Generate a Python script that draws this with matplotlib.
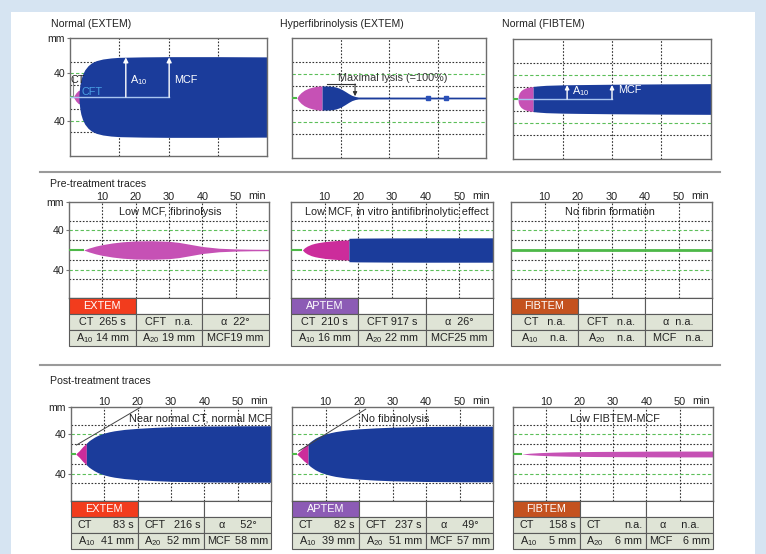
import matplotlib
matplotlib.use('Agg')
import matplotlib.pyplot as plt
from matplotlib.patches import Rectangle

plt.rcParams['font.family'] = ['Liberation Sans', 'DejaVu Sans']
plt.rcParams['mathtext.fontset'] = 'custom'
plt.rcParams['mathtext.rm'] = 'Liberation Sans'
plt.rcParams['mathtext.it'] = 'Liberation Sans:italic'
plt.rcParams['mathtext.bf'] = 'Liberation Sans:bold'
plt.rcParams['font.size'] = 7.5

# ------------------------------------------------------------------ data
# time in min, a = half amplitude in mm (trace is drawn symmetric)
NORM_EXTEM_CT = 1.0
NORM_EXTEM_PINK_T = [1.0, 1.8, 2.5, 3.2]
NORM_EXTEM_PINK_A = [0, 3.5, 5.5, 6.0]
NORM_EXTEM_BLUE_T = [2.7, 2.8, 3.0, 3.3, 3.8, 4.5, 5.5, 6.5, 8, 10, 12.5, 15, 22, 30, 45, 60]
NORM_EXTEM_BLUE_A = [0, 5, 10, 14.5, 19, 23, 26.5, 28.8, 30.8, 32.2, 33.1, 33.6, 34, 34.2, 34.2, 34]
NORM_EXTEM_A10_T = 17.0
NORM_EXTEM_MCF_T = 30.2

HYPER_CT = 1.5
HYPER_PINK_T = [1.5, 2.0, 2.8, 3.8, 5, 6.2, 7.5, 8.5, 9.3]
HYPER_PINK_A = [0, 2.2, 4.5, 6.5, 8.0, 9.0, 9.7, 10, 10]
HYPER_BLUE_T = [9.3, 11, 12.5, 13.5, 14.5, 15.5, 16.5, 17.5, 18.5, 19.5, 20.5, 60]
HYPER_BLUE_A = [10, 10, 9.7, 9.2, 8.3, 7.0, 5.4, 3.7, 2.2, 1.3, 0.8, 0.7]
HYPER_DOTS_T = [42.1, 47.7]
HYPER_LYSIS_T = [10.8, 19.5]

NORM_FIB_CT = 1.5
NORM_FIB_PINK_T = [1.5, 1.6, 1.9, 2.4, 3, 3.8, 4.6, 5.4, 6.1]
NORM_FIB_PINK_A = [0, 3, 5.2, 7, 8.2, 9.2, 9.8, 10.2, 10.3]
NORM_FIB_BLUE_T = [6.1, 8, 10, 15, 20, 30, 45, 60]
NORM_FIB_BLUE_A = [10.5, 11, 11.4, 11.8, 12, 12.3, 12.6, 12.8]
NORM_FIB_A10_T = 16.4
NORM_FIB_MCF_T = 30.0

PRE_EXTEM_CT = 4.4
PRE_EXTEM_PINK_T = [4.4, 6, 8, 10, 13, 16, 20, 25, 30, 33, 36, 40, 45, 50, 55, 60]
PRE_EXTEM_PINK_A = [0, 2, 4, 5.5, 7.2, 8.4, 9.3, 9.5, 8.9, 7.8, 6.0, 3.6, 1.8, 1.1, 0.8, 0.7]

PRE_APTEM_CT = 3.4
PRE_APTEM_PINK_T = [3.4, 4.0, 4.8, 6, 7, 8, 10, 12, 14.5, 17.2]
PRE_APTEM_PINK_A = [0, 2.2, 4, 5.8, 6.8, 7.5, 8.6, 9.3, 9.9, 10.3]
PRE_APTEM_BLUE_T = [17.2, 20, 30, 40, 60]
PRE_APTEM_BLUE_A = [12, 12.2, 12.4, 12.5, 12.5]

POST_EXTEM_CT = 1.4
POST_EXTEM_PINK_T = [1.4, 2.5, 3.5, 4.6]
POST_EXTEM_PINK_A = [0, 3.5, 7.5, 11]
POST_EXTEM_BLUE_T = [4.6, 5.3, 6, 7, 8, 9, 10, 11.5, 13, 16, 20, 25, 30, 40, 50, 60]
POST_EXTEM_BLUE_A = [11, 13.3, 15, 17.2, 19, 20.4, 21.5, 22.8, 23.8, 25.2, 26.3, 27.3, 28, 28.6, 28.9, 29]
POST_EXTEM_ALPHA = ([1.65, 20.9], [9.2, 48.0])

POST_APTEM_CT = 1.4
POST_APTEM_PINK_T = [1.4, 2.5, 3.5, 4.8]
POST_APTEM_PINK_A = [0, 3.5, 7, 10.5]
POST_APTEM_BLUE_T = [4.8, 5.4, 6, 7, 8, 9, 10, 11.5, 13, 16, 20, 25, 30, 40, 50, 60]
POST_APTEM_BLUE_A = [10.5, 12.5, 14, 16.3, 18, 19.4, 20.5, 21.9, 23, 24.5, 25.8, 26.8, 27.5, 28.2, 28.5, 28.5]
POST_APTEM_ALPHA = ([2.0, 22.0], [3.0, 46.0])

POST_FIB_CT = 2.6
POST_FIB_PINK_T = [2.6, 5, 8, 12, 17, 25, 35, 45, 60]
POST_FIB_PINK_A = [0, 0.8, 1.4, 1.9, 2.3, 2.6, 2.8, 3, 3]

TIME_TICKS = [10, 20, 30, 40, 50]

PRE_EXTEM_TABLE = [['CT  265 s', 'CFT   n.a.', 'α  22°'],
                   ['A$_{10}$ 14 mm', 'A$_{20}$ 19 mm', 'MCF19 mm']]
PRE_APTEM_TABLE = [['CT  210 s', 'CFT 917 s', 'α  26°'],
                   ['A$_{10}$ 16 mm', 'A$_{20}$ 22 mm', 'MCF25 mm']]
PRE_FIB_TABLE = [['CT   n.a.', 'CFT   n.a.', 'α  n.a.'],
                 ['A$_{10}$    n.a.', 'A$_{20}$    n.a.', 'MCF   n.a.']]
POST_EXTEM_TABLE = [[('CT', '83 s'), ('CFT', '216 s'), ('α', '52°')],
                    [('A$_{10}$', '41 mm'), ('A$_{20}$', '52 mm'), ('MCF', '58 mm')]]
POST_APTEM_TABLE = [[('CT', '82 s'), ('CFT', '237 s'), ('α', '49°')],
                    [('A$_{10}$', '39 mm'), ('A$_{20}$', '51 mm'), ('MCF', '57 mm')]]
POST_FIB_TABLE = [[('CT', '158 s'), ('CT', 'n.a.'), ('α', 'n.a.')],
                  [('A$_{10}$', '5 mm'), ('A$_{20}$', '6 mm'), ('MCF', '6 mm')]]

# ------------------------------------------------------------------ style
BLUE = '#1b3c9b'
PINK = '#c651b5'
PINK2 = '#cc2c9b'
GREEN = '#4db848'
GREEN_GRID = '#5cbf5a'
CELL = '#dfe4d6'
GRID = '#333333'
C_EXTEM = '#f23c1d'
C_APTEM = '#8c5bb5'
C_FIB = '#c4521f'

W, H = 766, 554
fig = plt.figure(figsize=(W / 100, H / 100), dpi=100)
fig.patch.set_facecolor('#d6e4f2')
fig.add_artist(Rectangle((11 / W, 0), (755 - 11) / W, 1 - 12 / H,
                         transform=fig.transFigure, fc='white', ec='none', zorder=0))


def px_axes(x0, y0, x1, y1):
    return fig.add_axes([x0 / W, 1 - y1 / H, (x1 - x0) / W, (y1 - y0) / H])


def ftext(x, y, s, **kw):
    kw.setdefault('va', 'center')
    fig.text(x / W, 1 - y / H, s, **kw)


def graph(x0, y0, x1, y1, ylim, xgrid, ylabels=False, xticks=False):
    ax = px_axes(x0, y0, x1, y1)
    ax.set_facecolor('none')
    ax.set_xlim(0, 60)
    ax.set_ylim(-ylim, ylim)
    for s in ax.spines.values():
        s.set_color('#6d6d6d')
        s.set_linewidth(1.0)
    for g in xgrid:
        ax.axvline(g, color=GRID, ls=(0, (1.5, 1.5)), lw=0.8, zorder=1)
    for g in (-30, -10, 10, 30):
        ax.axhline(g, color=GRID, ls=(0, (1.5, 1.5)), lw=0.8, zorder=1)
    for g in (-20, 20):
        ax.axhline(g, color=GREEN_GRID, ls=(0, (3, 2)), lw=0.8, zorder=1)
    if ylabels:
        ax.set_yticks([-20, 20, ylim])
        ax.set_yticklabels(['40', '40', 'mm'], fontsize=7.6, color='#222')
        ax.tick_params(axis='y', length=2.5, width=0.8, color='#777', pad=1)
    else:
        ax.set_yticks([])
    if xticks:
        ax.xaxis.set_ticks_position('top')
        ax.set_xticks(TIME_TICKS)
        ax.set_xticklabels([str(v) for v in TIME_TICKS], fontsize=7.8, color='#222')
        ax.tick_params(axis='x', length=0, pad=0.3)
        ax.annotate('min', xy=(1.0, 1.0), xycoords='axes fraction', xytext=(-2, 0.5),
                    textcoords='offset points', ha='right', va='bottom',
                    fontsize=7.8, color='#222')
    else:
        ax.set_xticks([])
    return ax


def trace(ax, ct, segments, lw=1.5):
    ax.plot([0, ct], [0, 0], color=GREEN, lw=lw, zorder=3, solid_capstyle='butt')
    for t, a, c in segments:
        ax.fill_between(t, [-v for v in a], a, color=c, lw=0, zorder=2)


def table(x0, x1, y0, name, hcolor, rows, split):
    ax = px_axes(x0, y0, x1, y0 + 48)
    ax.set_xlim(0, 3)
    ax.set_ylim(3, 0)
    ax.axis('off')
    for r in range(3):
        for c in range(3):
            fc = hcolor if (r == 0 and c == 0) else ('white' if r == 0 else CELL)
            ax.add_patch(Rectangle((c, r), 1, 1, fc=fc, ec='#5a5a5a', lw=0.8, clip_on=False))
    ax.text(0.5, 0.5, name, color='white', ha='center', va='center', fontsize=7.8)
    for r, row in enumerate(rows, start=1):
        for c, cell in enumerate(row):
            if split:
                lab, val = cell
                if lab == 'α':
                    ax.text(c + 0.5, r + 0.52, 'α     ' + val, ha='center', va='center',
                            fontsize=7.8, color='#222')
                else:
                    off = 0.04 if lab == 'MCF' else 0.1
                    ax.text(c + off, r + 0.52, lab, ha='left', va='center',
                            fontsize=7.8, color='#222')
                    ax.text(c + 0.96 if lab == 'MCF' else c + 0.94, r + 0.52, val,
                            ha='right', va='center', fontsize=7.8, color='#222')
            else:
                ax.text(c + 0.5, r + 0.52, cell, ha='center', va='center',
                        fontsize=7.8, color='#222')


# ------------------------------------------------------------------ top row
ftext(51, 24, 'Normal (EXTEM)', fontsize=7.6, color='#222')
ftext(280, 24, 'Hyperfibrinolysis (EXTEM)', fontsize=7.6, color='#222')
ftext(502, 24, 'Normal (FIBTEM)', fontsize=7.6, color='#222')

QUART = [15, 30, 45]
ax = graph(70, 38, 267, 156, 50, QUART, ylabels=True)
trace(ax, NORM_EXTEM_CT, [(NORM_EXTEM_PINK_T, NORM_EXTEM_PINK_A, PINK),
                          (NORM_EXTEM_BLUE_T, NORM_EXTEM_BLUE_A, BLUE)])
ax.plot([NORM_EXTEM_CT, NORM_EXTEM_CT], [0, 17], color='#888', lw=0.8, zorder=3)
ax.plot([0, NORM_EXTEM_MCF_T], [0, 0], color='#a9c5f0', lw=1.0, zorder=4)
for t in (NORM_EXTEM_A10_T, NORM_EXTEM_MCF_T):
    ax.annotate('', xy=(t, 33.6), xytext=(t, 0),
                arrowprops=dict(arrowstyle='-|>', color='white', lw=1.0,
                                mutation_scale=7, shrinkA=0, shrinkB=0), zorder=5)
ax.text(0.3, 14.4, 'CT', ha='left', va='center', fontsize=7.8, color='#222', zorder=6)
ax.text(3.4, 4.2, 'CFT', ha='left', va='center', fontsize=7.8, color='#4a9fe3', zorder=6)
ax.text(NORM_EXTEM_A10_T + 1.2, 14.4, 'A$_{10}$', ha='left', va='center', fontsize=7.8,
        color='white', zorder=6)
ax.text(NORM_EXTEM_MCF_T + 1.6, 14.4, 'MCF', ha='left', va='center', fontsize=7.8,
        color='white', zorder=6)

ax = graph(292, 38, 486, 158, 50, QUART)
trace(ax, HYPER_CT, [(HYPER_PINK_T, HYPER_PINK_A, PINK),
                     (HYPER_BLUE_T, HYPER_BLUE_A, BLUE)])
ax.plot(HYPER_DOTS_T, [0] * len(HYPER_DOTS_T), 's', ms=2.5, color='#2a50b8', zorder=4)
ax.plot(HYPER_LYSIS_T, [11.7, 11.7], color='#333', lw=0.8, zorder=4)
ax.annotate('', xy=(HYPER_LYSIS_T[1], 1.5), xytext=(HYPER_LYSIS_T[1], 11.7),
            arrowprops=dict(arrowstyle='-|>', color='#333', lw=0.8, mutation_scale=6,
                            shrinkA=0, shrinkB=0), zorder=4)
ax.text(31.1, 16.7, 'Maximal lysis (=100%)', ha='center', va='center', fontsize=7.8,
        color='#333', zorder=6)

ax = graph(513, 39, 711, 159, 50, QUART)
trace(ax, NORM_FIB_CT, [(NORM_FIB_PINK_T, NORM_FIB_PINK_A, PINK),
                        (NORM_FIB_BLUE_T, NORM_FIB_BLUE_A, BLUE)])
ax.plot([NORM_FIB_CT, NORM_FIB_MCF_T], [0, 0], color='#a9c5f0', lw=1.0, zorder=4)
for t in (NORM_FIB_A10_T, NORM_FIB_MCF_T):
    ax.annotate('', xy=(t, 11.7), xytext=(t, 0),
                arrowprops=dict(arrowstyle='-|>', color='white', lw=1.0,
                                mutation_scale=6, shrinkA=0, shrinkB=0), zorder=5)
ax.text(NORM_FIB_A10_T + 1.5, 7.0, 'A$_{10}$', ha='left', va='center', fontsize=7.8,
        color='white', zorder=6)
ax.text(NORM_FIB_MCF_T + 1.8, 7.5, 'MCF', ha='left', va='center', fontsize=7.8,
        color='white', zorder=6)

# separators
for y in (172, 365):
    fig.add_artist(plt.Line2D([40 / W, 720 / W], [1 - y / H, 1 - y / H],
                              transform=fig.transFigure, color='#9a9a9a', lw=1.5))

# ------------------------------------------------------------------ pre-treatment
ftext(50, 184, 'Pre-treatment traces', fontsize=7.6, color='#222')
DEC = [10, 20, 30, 40, 50]
ax = graph(69, 202, 269, 298, 49.2, DEC, ylabels=True, xticks=True)
trace(ax, PRE_EXTEM_CT, [(PRE_EXTEM_PINK_T, PRE_EXTEM_PINK_A, PINK)])
ax.text(30.3, 39, 'Low MCF, fibrinolysis', ha='center', va='center', fontsize=7.8, color='#222')
table(69, 269, 298, 'EXTEM', C_EXTEM, PRE_EXTEM_TABLE, False)

ax = graph(291, 202, 493, 298, 49.2, DEC, xticks=True)
trace(ax, PRE_APTEM_CT, [(PRE_APTEM_PINK_T, PRE_APTEM_PINK_A, PINK2),
                         (PRE_APTEM_BLUE_T, PRE_APTEM_BLUE_A, BLUE)])
ax.text(31.5, 39, 'Low MCF, in vitro antifibrinolytic effect', ha='center', va='center',
        fontsize=7.8, color='#222')
table(291, 493, 298, 'APTEM', C_APTEM, PRE_APTEM_TABLE, False)

ax = graph(511, 202, 712, 298, 49.2, DEC, xticks=True)
trace(ax, 60, [], lw=2.0)
ax.text(29.5, 39, 'No fibrin formation', ha='center', va='center', fontsize=7.8, color='#222')
table(511, 712, 298, 'FIBTEM', C_FIB, PRE_FIB_TABLE, False)

# ------------------------------------------------------------------ post-treatment
ftext(50, 381, 'Post-treatment traces', fontsize=7.6, color='#222')
ax = graph(71, 407, 271, 501, 48.2, DEC, ylabels=True, xticks=True)
trace(ax, POST_EXTEM_CT, [(POST_EXTEM_PINK_T, POST_EXTEM_PINK_A, PINK2),
                          (POST_EXTEM_BLUE_T, POST_EXTEM_BLUE_A, BLUE)])
ax.plot(*POST_EXTEM_ALPHA, color='#444', lw=0.7, zorder=5, clip_on=False)
ax.text(38.9, 35.9, 'Near normal CT, normal MCF', ha='center', va='center', fontsize=7.8,
        color='#222', zorder=6)
table(71, 271, 501, 'EXTEM', C_EXTEM, POST_EXTEM_TABLE, True)

ax = graph(292, 407, 493, 501, 48.2, DEC, xticks=True)
trace(ax, POST_APTEM_CT, [(POST_APTEM_PINK_T, POST_APTEM_PINK_A, PINK2),
                          (POST_APTEM_BLUE_T, POST_APTEM_BLUE_A, BLUE)])
ax.plot(*POST_APTEM_ALPHA, color='#444', lw=0.7, zorder=5, clip_on=False)
ax.text(30.7, 35.9, 'No fibrinolysis', ha='center', va='center', fontsize=7.8,
        color='#222', zorder=6)
table(292, 493, 501, 'APTEM', C_APTEM, POST_APTEM_TABLE, True)

ax = graph(513, 407, 713, 501, 48.2, DEC, xticks=True)
trace(ax, POST_FIB_CT, [(POST_FIB_PINK_T, POST_FIB_PINK_A, PINK)])
ax.text(30.6, 35.9, 'Low FIBTEM-MCF', ha='center', va='center', fontsize=7.8,
        color='#222', zorder=6)
table(513, 713, 501, 'FIBTEM', C_FIB, POST_FIB_TABLE, True)

fig.savefig('out.png', dpi=100, facecolor=fig.get_facecolor())
